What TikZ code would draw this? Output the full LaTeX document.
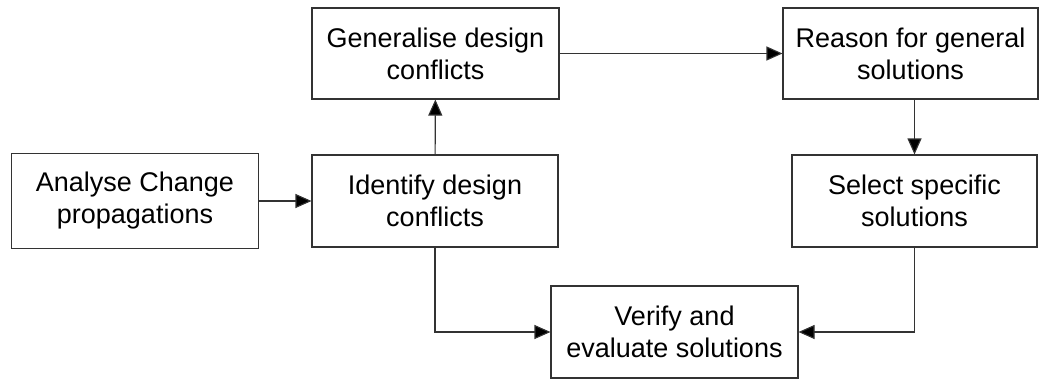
\documentclass[tikz,border=0pt]{standalone}
\usepackage{fontspec}
\setmainfont{Liberation Sans}
\usetikzlibrary{arrows.meta}

\tikzset{every picture/.style={line width=1.1pt}}
\tikzset{
  stepbox/.style={draw=black!80, align=center, inner sep=0pt,
    minimum width=247, minimum height=92,
    font=\fontsize{27}{32}\selectfont},
  flow/.style={draw=black!80, -{Triangle[length=16pt,width=14pt,fill=black]}}
}

\begin{document}
\begin{tikzpicture}[x=1pt,y=1pt,yscale=-1,xscale=1]
	\useasboundingbox (0,0) rectangle (1040,380); %set diagram to 1040 x 380

	% Boxes
	\node [stepbox, minimum height=95] (analyse) at (135,201) {Analyse Change\\propagations};
	\node [stepbox, minimum width=246] (identify) at (435,201) {Identify design\\conflicts};
	\node [stepbox, minimum height=91] (generalise) at (435.5,53.5) {Generalise design\\conflicts};
	\node [stepbox, minimum width=255, minimum height=91] (reason) at (910.5,53.5) {Reason for general\\solutions};
	\node [stepbox, minimum width=245] (select) at (914.5,201) {Select specific\\solutions};
	\node [stepbox] (verify) at (674.5,332) {Verify and\\evaluate solutions};

	% Connectors
	\draw [flow] (analyse) -- (identify);
	\draw [flow] (identify) -- (generalise);
	\draw [flow] (generalise) -- (reason);
	\draw [flow] (reason.south -| select.north) -- (select.north);
	\draw [flow] (identify.south) |- (verify.west);
	\draw [flow] (select.south) |- (verify.east);

\end{tikzpicture}
\end{document}
